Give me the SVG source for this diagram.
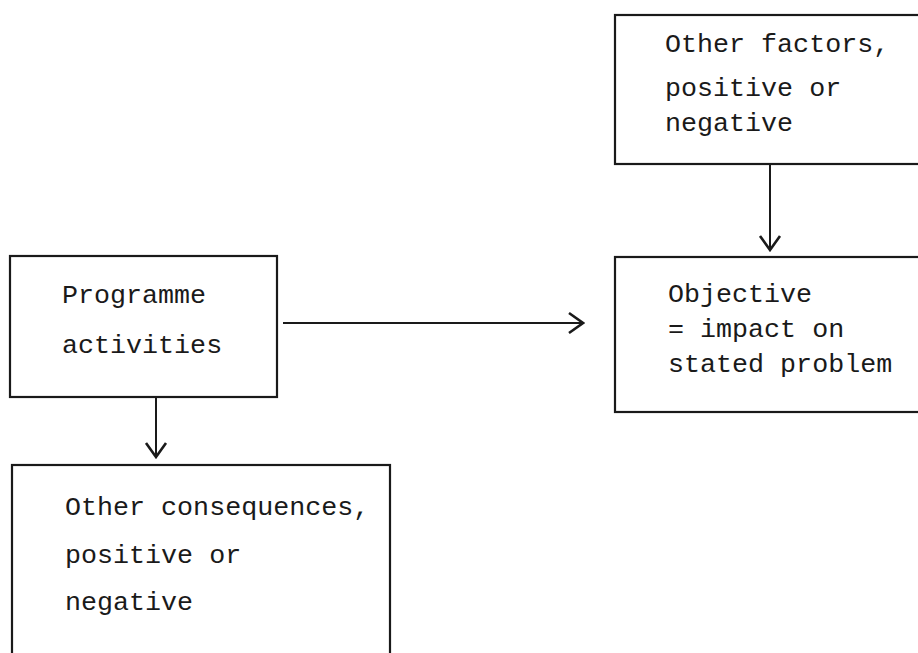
<svg xmlns="http://www.w3.org/2000/svg" width="918" height="653" viewBox="0 0 918 653">
<style>
.box{fill:none;stroke:#1a1a1a;stroke-width:2.2}
.edge{fill:none;stroke:#1a1a1a;stroke-width:2}
.t{font-family:"Liberation Mono","DejaVu Sans Mono",monospace;font-size:26.7px;fill:#1a1a1a}
</style>
<defs>
<marker id="ah" viewBox="0 0 20 24" refX="18" refY="12" markerWidth="20" markerHeight="24" markerUnits="userSpaceOnUse" orient="auto">
<path d="M4,2 L18,12 L4,22" fill="none" stroke="#1a1a1a" stroke-width="2.6"/>
</marker>
</defs>
<rect width="918" height="653" fill="#fff"/>
<g id="node-programme">
<rect class="box" x="10" y="256" width="267" height="141"/>
<text class="t" x="62" y="303">Programme</text>
<text class="t" x="62" y="353">activities</text>
</g>
<g id="node-consequences">
<rect class="box" x="12" y="465" width="378" height="220"/>
<text class="t" x="65" y="515">Other consequences,</text>
<text class="t" x="65" y="563">positive or</text>
<text class="t" x="65" y="610">negative</text>
</g>
<g id="node-factors">
<rect class="box" x="615" y="15" width="330" height="149"/>
<text class="t" x="665" y="52">Other factors,</text>
<text class="t" x="665" y="96">positive or</text>
<text class="t" x="665" y="131">negative</text>
</g>
<g id="node-objective">
<rect class="box" x="615" y="257" width="330" height="155"/>
<text class="t" x="668" y="302">Objective</text>
<text class="t" x="668" y="337">= impact on</text>
<text class="t" x="668" y="372">stated problem</text>
</g>
<g id="connectors">
<line class="edge" x1="283" y1="323" x2="583" y2="323" marker-end="url(#ah)"/>
<line class="edge" x1="156" y1="397" x2="156" y2="457" marker-end="url(#ah)"/>
<line class="edge" x1="770" y1="164" x2="770" y2="250" marker-end="url(#ah)"/>
</g>
</svg>
